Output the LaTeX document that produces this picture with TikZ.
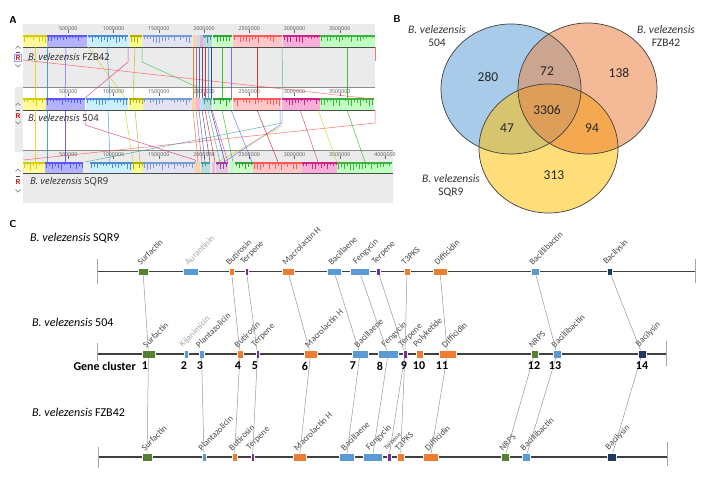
\documentclass[tikz,border=0pt]{standalone}
\usepackage{fontspec}
\setmainfont{Carlito}
\newfontfamily\osans{Open Sans}
\definecolor{vblue}{HTML}{A9CBEA}
\definecolor{vorange}{HTML}{F4BA98}
\definecolor{vyellow}{HTML}{FFDD78}
\definecolor{vab}{HTML}{CBA590}
\definecolor{vac}{HTML}{D6C46E}
\definecolor{vbc}{HTML}{F4A850}
\definecolor{vabc}{HTML}{DC9E58}
\definecolor{ggreen}{HTML}{548235}
\definecolor{gblue}{HTML}{5B9BD5}
\definecolor{gorange}{HTML}{ED7D31}
\definecolor{gpurple}{HTML}{7030A0}
\definecolor{gnavy}{HTML}{203864}
\definecolor{labgray}{HTML}{4A4A4A}
\definecolor{lightlab}{HTML}{A8A8A8}
\definecolor{panelgray}{HTML}{EBEBEB}
\tikzset{
  gbox/.style={rectangle, draw=white, line width=0.3pt, inner sep=0pt, minimum height=7.5pt},
  glab/.style={font=\fontsize{8.8}{9}\selectfont, inner sep=0pt},
  conn/.style={draw=black!40, line width=0.5pt},
  track/.style={draw=black!75, line width=1.2pt},
  endtick/.style={draw=black!35, line width=0.8pt},
  species/.style={font=\fontsize{12}{14}\selectfont, anchor=west, inner sep=0pt},
  num/.style={font=\fontsize{12}{14}\selectfont\bfseries, inner sep=0pt},
  vnum/.style={font=\fontsize{13.5}{15}\selectfont, text=black!85, inner sep=0pt},
  vlab/.style={font=\fontsize{11.5}{13}\selectfont, text=black!80, inner sep=0pt, align=center},
  panel/.style={font=\sffamily\bfseries\fontsize{10}{12}\selectfont, inner sep=0pt},
  ruler/.style={font=\osans\fontsize{5.3}{6}\selectfont, text=black!65, inner sep=0pt},
  aname/.style={font=\osans\fontsize{9.5}{11}\selectfont, text=black!85, anchor=west, inner sep=0pt},
  mline/.style={line width=0.5pt, opacity=0.75},
}
\pgfmathsetseed{7}
\newcommand\myblk[5]{%
  \fill[#4] (#1,#3) rectangle (#2,#3+12);
  \fill[#5] (#1,#3) rectangle (#2,#3+2);
  \pgfmathtruncatemacro\bkA{#1+1}\pgfmathtruncatemacro\bkB{#1+4}\pgfmathtruncatemacro\bkE{#2-1}%
  \foreach \t in {\bkA,\bkB,...,\bkE}{\pgfmathsetmacro\dd{2+6*rnd}\draw[#5, line width=0.5pt] (\t,#3) -- (\t,#3+\dd);}%
}
\newcommand\mysmall[4]{\fill[#4] (#1,#3) rectangle (#2,#3+12);}
\newcommand\mygene[7]{%
  \node[gbox, fill=#5, minimum width={(#3)-(#2)}] (#1) at ({((#2)+(#3))/2},#4) {};
  \node[glab, text=#7, rotate=45, anchor=south west] (#1l) at ({((#2)+(#3))/2-2},{(#4)-5.5}) {#6};}
\begin{document}
\begin{tikzpicture}[x=1pt,y=-1pt]
\useasboundingbox (0,0) rectangle (708,478);
\fill[white] (0,0) rectangle (708,478);

% ================= Panel A =================
\node[panel] (pA) at (13,20) {A};
\fill[panelgray] (23,24) rectangle (375,87);
\fill[panelgray] (15,87) rectangle (23,152);
\fill[panelgray] (23,150) rectangle (393,203);
\draw[black!45, line width=0.8pt] (23,87) -- (375,87);
\draw[black!45, line width=0.8pt] (23,150) -- (393,150);
% rulers
\foreach \yy/\mx in {29/7,92/7,155/8}{
  \foreach \i/\lab in {1/500000,2/1000000,3/1500000,4/2000000,5/2500000,6/3000000,7/3500000,8/4000000}{
    \ifnum\i>\mx\else
    \pgfmathsetmacro\xx{23+45.25*\i}
    \node[ruler] at (\xx,\yy) {\lab};
    \draw[black!60, line width=0.3pt] (\xx,\yy+1) -- (\xx,\yy+4);
    \fi
  }}
% track 1 (FZB42)
\myblk{23}{47}{35}{yellow!40}{yellow!65!olive}
\myblk{47}{87}{35}{blue!30}{blue!65}
\myblk{88}{128}{35}{cyan!20}{cyan!55!blue!75}
\myblk{130}{142}{35}{lime!30!yellow!45}{olive!65!yellow}
\myblk{143}{192}{35}{cyan!18!blue!10}{cyan!45!blue!55}
\mysmall{193}{197}{35}{orange!35}
\mysmall{197}{200}{35}{cyan!30}
\mysmall{200}{203}{35}{magenta!35}
\myblk{203}{212}{35}{teal!28}{teal!75}
\myblk{213}{232}{35}{green!22}{green!55!black!80}
\myblk{233}{282}{35}{red!22}{red!65}
\myblk{283}{320}{35}{magenta!32}{magenta!65!violet}
\myblk{320}{375}{35}{green!25}{green!60!black!75}
\draw[black!70, line width=0.9pt] (23,47) -- (375,47);
% track 2 (504)
\myblk{23}{46}{98}{yellow!40}{yellow!65!olive}
\myblk{46}{85}{98}{blue!30}{blue!65}
\myblk{86}{128}{98}{cyan!20}{cyan!55!blue!75}
\myblk{129}{143}{98}{lime!30!yellow!45}{olive!65!yellow}
\myblk{143}{192}{98}{cyan!18!blue!10}{cyan!45!blue!55}
\mysmall{192}{196}{98}{orange!35}
\mysmall{196}{200}{98}{magenta!30}
\mysmall{200}{203}{98}{cyan!30}
\myblk{203}{212}{98}{teal!28}{teal!75}
\myblk{213}{232}{98}{green!22}{green!55!black!80}
\myblk{233}{281}{98}{red!22}{red!65}
\myblk{282}{320}{98}{magenta!32}{magenta!65!violet}
\myblk{320}{374}{98}{green!25}{green!60!black!75}
\draw[black!70, line width=0.9pt] (23,110) -- (375,110);
% track 3 (SQR9)
\myblk{23}{45}{162}{yellow!40}{yellow!65!olive}
\myblk{45}{83}{162}{blue!30}{blue!65}
\myblk{90}{132}{162}{cyan!20}{cyan!55!blue!75}
\myblk{132}{143}{162}{lime!30!yellow!45}{olive!65!yellow}
\myblk{143}{195}{162}{cyan!18!blue!10}{cyan!45!blue!55}
\mysmall{195}{200}{162}{orange!35}
\myblk{201}{210}{162}{teal!28}{teal!75}
\mysmall{212}{215}{162}{magenta!30}
\myblk{216}{228}{162}{violet!22}{violet!75}
\mysmall{230}{234}{162}{green!25}
\myblk{235}{253}{162}{green!22}{green!55!black!80}
\myblk{253}{302}{162}{red!22}{red!65}
\myblk{302}{337}{162}{magenta!32}{magenta!65!violet}
\myblk{337}{392}{162}{green!25}{green!60!black!75}
\draw[black!70, line width=0.9pt] (23,173) -- (393,173);
% connecting lines 1-2
\draw[mline, yellow!70!olive] (35,47) -- (35,98);
\draw[mline, cyan!70!blue] (47,47) -- (47,98);
\draw[mline, blue!80] (66,47) -- (65,98);
\draw[mline, magenta!80!violet] (128,47) -- (128,62) -- (85,98);
\draw[mline, yellow!60!olive] (88,47) -- (125,98);
\draw[mline, cyan!60!blue] (107,47) -- (110,98);
\draw[mline, olive!70!yellow] (135,47) -- (133,98);
\draw[mline, green!60!teal] (142,47) -- (142,62) -- (197,87) -- (198,98);
\draw[mline, red!75] (23,60) -- (373,99);
\draw[mline, red!75] (375,47) -- (375,61);
\foreach \xx/\cc in {193/orange,196/magenta,199/teal,202/violet,205/red,208/cyan,211/blue}
  \draw[mline, \cc!80!black] (\xx,47) -- (\xx,98);
\draw[mline, green!70!black] (222,47) -- (222,98);
\draw[mline, blue!70] (231,47) -- (231,98);
\draw[mline, red!70!black] (257,47) -- (257,98);
\draw[mline, teal!80] (282,47) -- (283,98);
\draw[mline, green!70!black] (347,47) -- (347,98);
% connecting lines 2-3
\draw[mline, yellow!70!olive] (35,110) -- (35,162);
\draw[mline, cyan!70!blue] (47,110) -- (47,162);
\draw[mline, blue!80] (65,110) -- (65,162);
\draw[mline, magenta!80!violet] (85,110) -- (85,125) -- (195,160) -- (196,162);
\draw[mline, cyan!60!blue] (108,110) -- (110,162);
\draw[mline, yellow!60!olive] (125,110) -- (133,162);
\draw[mline, olive!70!yellow] (135,110) -- (140,162);
\draw[mline, red!75] (375,110) -- (375,123) -- (23,160);
\draw[mline, teal!80] (282,110) -- (282,123) -- (85,162);
\draw[mline, blue!70] (280,110) -- (280,125) -- (224,162);
\draw[mline, yellow!60!olive] (282,126) -- (218,162);
\foreach \xa/\xb/\cc in {193/198/orange,196/202/magenta,199/205/teal,202/210/violet,205/215/red,208/220/cyan,211/225/blue,212/228/magenta}
  \draw[mline, \cc!80!black] (\xa,110) -- (\xb,162);
\draw[mline, green!70!black] (222,110) -- (233,162);
\draw[mline, blue!70] (231,110) -- (252,162);
\draw[mline, red!70!black] (257,110) -- (278,162);
\draw[mline, magenta!70!violet] (300,110) -- (318,162);
\draw[mline, yellow!60!olive] (318,110) -- (337,162);
\draw[mline, green!70!black] (347,110) -- (365,162);
% species names and controls
\node[aname] (a1) at (28,57) {\itshape B. velezensis\/ \upshape FZB42};
\node[aname] (a2) at (28,118) {\itshape B. velezensis\/ \upshape 504};
\node[aname] (a3) at (30,182) {\itshape B. velezensis\/ \upshape SQR9};
\foreach \yu/\ym/\yr/\yd in {47/52/58/66, 104/110/116/123, 170/176/182/191}{
  \draw[black!40, line width=1pt] (15.5,\yu+1.5) -- (18,\yu-1) -- (20.5,\yu+1.5);
  \draw[black!70, line width=0.8pt] (16,\ym) -- (20,\ym);
  \node[font=\sffamily\bfseries\fontsize{7}{8}\selectfont, text=red!75!black, inner sep=0pt] at (18,\yr) {R};
  \draw[black!40, line width=1pt] (15.5,\yd-1.5) -- (18,\yd+1) -- (20.5,\yd-1.5);
}
\draw[blue!40, line width=0.5pt] (14.5,54.5) rectangle (21.5,61.5);

% ================= Panel B =================
\node[panel] (pB) at (397,19) {B};
\fill[vblue] (511,89) ellipse [x radius=70, y radius=65];
\fill[vorange] (587.5,88.5) ellipse [x radius=69.5, y radius=65.5];
\fill[vyellow] (548.5,148.5) ellipse [x radius=69.5, y radius=64.5];
\begin{scope}
  \clip (587.5,88.5) ellipse [x radius=69.5, y radius=65.5];
  \fill[vbc] (548.5,148.5) ellipse [x radius=69.5, y radius=64.5];
\end{scope}
\begin{scope}
  \clip (511,89) ellipse [x radius=70, y radius=65];
  \fill[vab] (587.5,88.5) ellipse [x radius=69.5, y radius=65.5];
  \fill[vac] (548.5,148.5) ellipse [x radius=69.5, y radius=64.5];
  \clip (587.5,88.5) ellipse [x radius=69.5, y radius=65.5];
  \fill[vabc] (548.5,148.5) ellipse [x radius=69.5, y radius=64.5];
\end{scope}
\draw[black!75, line width=0.7pt] (511,89) ellipse [x radius=70, y radius=65];
\draw[black!75, line width=0.7pt] (587.5,88.5) ellipse [x radius=69.5, y radius=65.5];
\draw[black!75, line width=0.7pt] (548.5,148.5) ellipse [x radius=69.5, y radius=64.5];
\node[vlab] (v1) at (437,36) {\itshape B. velezensis\\504};
\node[vlab] (v2) at (666,36) {\itshape B. velezensis\\FZB42};
\node[vlab] (v3) at (451,186) {\itshape B. velezensis\\SQR9};
\node[vnum] (c1) at (488,77) {280};
\node[vnum] (c2) at (547,71) {72};
\node[vnum] (c3) at (619,73) {138};
\node[vnum] (c4) at (547,110) {3306};
\node[vnum] (c5) at (507,128) {47};
\node[vnum] (c6) at (592,128) {94};
\node[vnum] (c7) at (554,175) {313};

% ================= Panel C =================
\node[panel] (pC) at (13,224) {C};
\node[species] (t1) at (30,238) {\textit{B. velezensis} SQR9};
\node[species] (t2) at (32,322) {\textit{B. velezensis} 504};
\node[species] (t3) at (32,412) {\textit{B. velezensis} FZB42};
% track lines
\draw[track] (97,271.5) -- (695,271.5);
\draw[endtick] (97,259) -- (97,284);
\draw[endtick] (695,259) -- (695,283);
\draw[track] (97,354) -- (666,354);
\draw[endtick] (97,343) -- (97,361);
\draw[endtick] (666,341) -- (666,366);
\draw[track] (98,457) -- (667,457);
\draw[endtick] (98,447) -- (98,468);
\draw[endtick] (667,442) -- (667,466);
% SQR9
\mygene{s1}{138}{148}{271.5}{ggreen}{Surfactin}{labgray}
\mygene{s2}{183}{198}{271.5}{gblue}{Aurantinin}{lightlab}
\mygene{s3}{229}{234}{271.5}{gorange}{Butirosin}{labgray}
\mygene{s4}{245}{248}{271.5}{gpurple}{Terpene}{labgray}
\mygene{s5}{282}{294}{271.5}{gorange}{Macrolactin H}{labgray}
\mygene{s6}{327}{341}{271.5}{gblue}{Bacillaene}{labgray}
\mygene{s7}{350}{369}{271.5}{gblue}{Fengycin}{labgray}
\mygene{s8}{376}{380}{271.5}{gpurple}{Terpene}{labgray}
\mygene{s9}{404}{410}{271.5}{gorange}{T3PKS}{labgray}
\mygene{s10}{433}{447}{271.5}{gorange}{Difficidin}{labgray}
\mygene{s11}{531}{539}{271.5}{gblue}{Bacillibactin}{labgray}
\mygene{s12}{607}{612}{271.5}{gnavy}{Bacilysin}{labgray}
% 504
\mygene{m1}{142}{155}{354}{ggreen}{Surfactin}{labgray}
\mygene{m2}{184}{188}{354}{gblue}{Kijanimicin}{lightlab}
\mygene{m3}{199}{204}{354}{gblue}{Plantazolicin}{labgray}
\mygene{m4}{237}{243}{354}{gorange}{Butirosin}{labgray}
\mygene{m5}{256}{259}{354}{gpurple}{Terpene}{labgray}
\mygene{m6}{304}{317}{354}{gorange}{Macrolactin H}{labgray}
\mygene{m7}{352}{368}{354}{gblue}{Bacillaene}{labgray}
\mygene{m8}{378}{398}{354}{gblue}{Fengycin}{labgray}
\mygene{m9}{403}{407}{354}{gpurple}{Terpene}{labgray}
\mygene{m10}{416}{423}{354}{gorange}{Polyketide}{labgray}
\mygene{m11}{439}{456}{354}{gorange}{Difficidin}{labgray}
\mygene{m12}{531}{538}{354}{ggreen}{NRPS}{labgray}
\mygene{m13}{553}{561}{354}{gblue}{Bacillibactin}{labgray}
\mygene{m14}{638}{646}{354}{gnavy}{Bacilysin}{labgray}
% FZB42
\mygene{f1}{142}{152}{457}{ggreen}{Surfactin}{labgray}
\mygene{f2}{202}{206}{457}{gblue}{Plantazolicin}{labgray}
\mygene{f3}{232}{237}{457}{gorange}{Butirosin}{labgray}
\mygene{f4}{251}{254}{457}{gpurple}{Terpene}{labgray}
\mygene{f5}{293}{306}{457}{gorange}{Macrolactin H}{labgray}
\mygene{f6}{339}{354}{457}{gblue}{Bacillaene}{labgray}
\mygene{f7}{363}{382}{457}{gblue}{Fengycin}{labgray}
\mygene{f8}{387}{391}{457}{gpurple}{\fontsize{6.5}{7}\selectfont Terpene}{labgray}
\mygene{f9}{397}{404}{457}{gorange}{T3PKS}{labgray}
\mygene{f10}{423}{438}{457}{gorange}{Difficidin}{labgray}
\mygene{f11}{501}{509}{457}{ggreen}{NRPS}{labgray}
\mygene{f12}{522}{530}{457}{gblue}{Bacillibactin}{labgray}
\mygene{f13}{607}{616}{457}{gnavy}{Bacilysin}{labgray}
% connectors
\foreach \a/\b in {s1/m1,s3/m4,s4/m5,s5/m6,s6/m7,s7/m8,s8/m9,s9/m9,s10/m11,s11/m13,s12/m14,
  m1/f1,m3/f2,m4/f3,m5/f4,m6/f5,m7/f6,m8/f7,m9/f8,m9/f9,m11/f10,m12/f11,m13/f12,m14/f13}
  \draw[conn] (\a) -- (\b);
% gene cluster numbers
\node[num, anchor=east] (gc) at (136,366) {Gene cluster};
\foreach \n/\xx in {1/145,2/184,3/200,4/238,5/255,6/305,7/353,8/380,9/404,10/419,11/442,12/534,13/555,14/642}
  \node[num] (n\n) at (\xx,366) {\n};
\end{tikzpicture}
\end{document}
